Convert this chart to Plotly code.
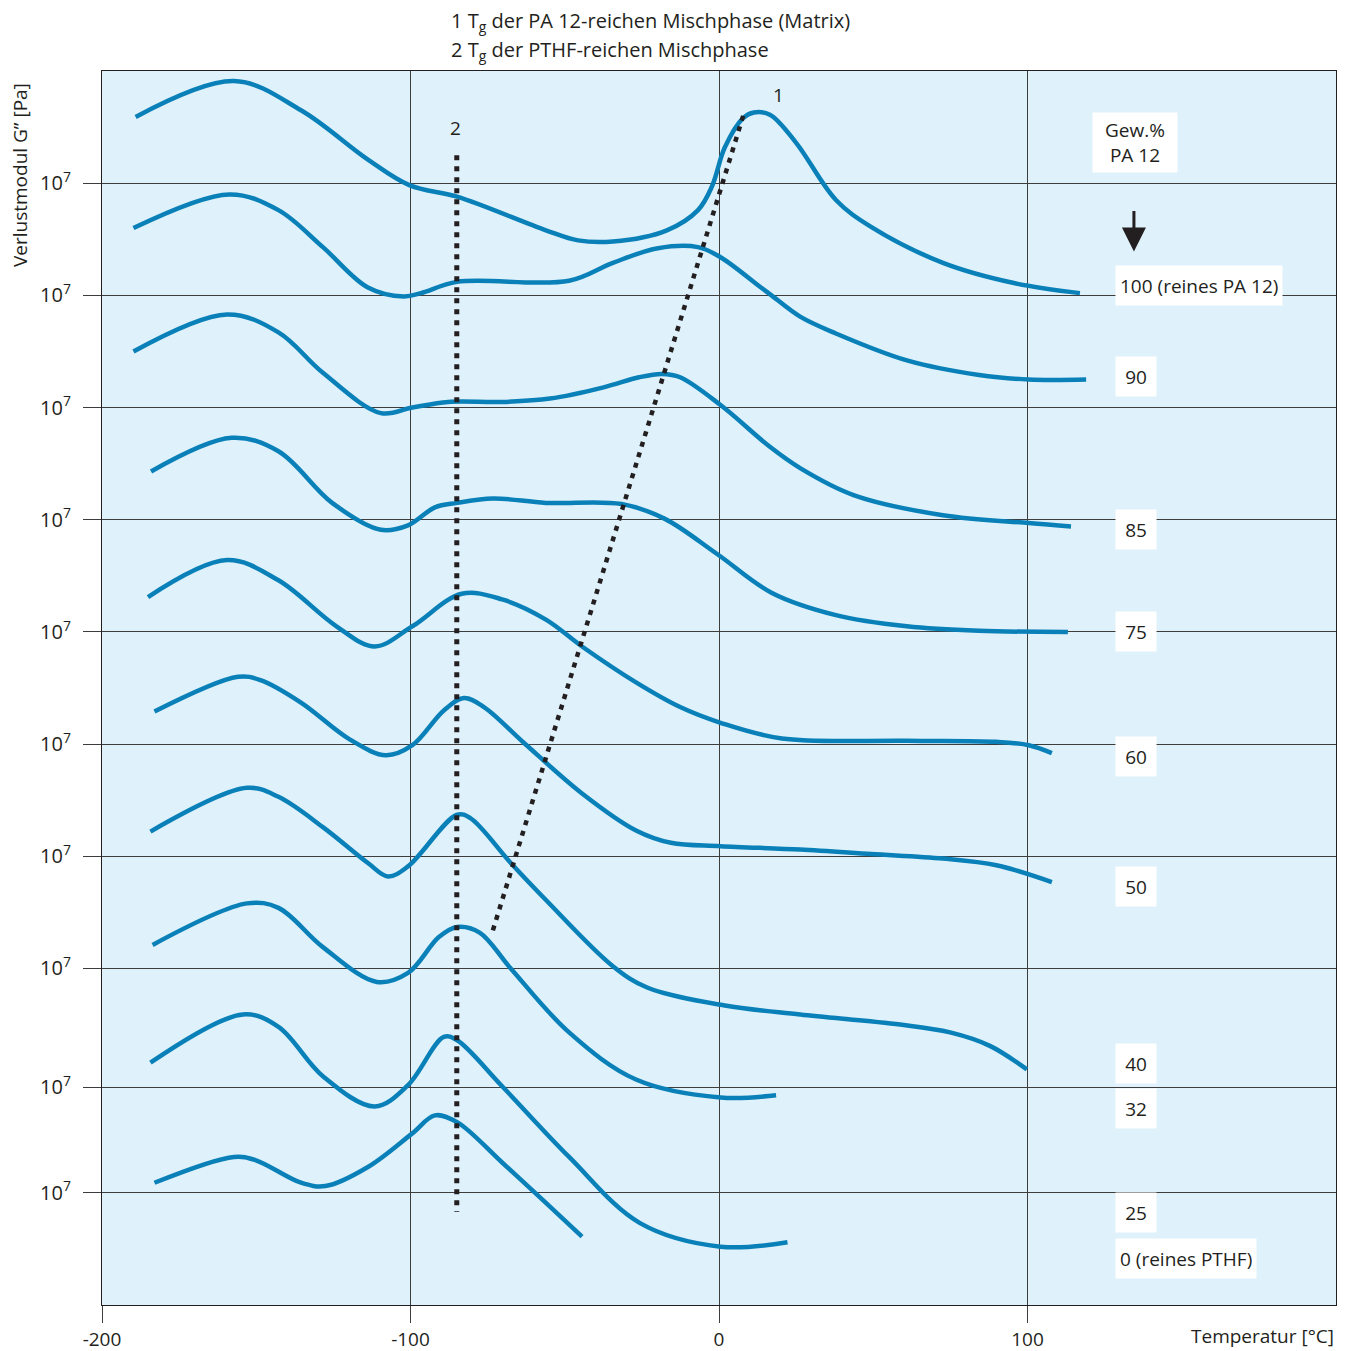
import plotly.graph_objects as go

# ---- data: temperature [°C] and loss modulus (offset display scale, each row labelled 10^7) ----
T_100 = [-189.1, -157.2, -135.5, -113.8, -100.2, -84.9, -56.1, -45.7, -34.4, -16.9, -6.8, -2.3, 1.9, 7.8, 11.3, 16.5, 25.0, 37.9, 49.3, 72.6, 95.6, 117.0]
G_100 = [10.59, 10.91, 10.65, 10.21, 9.98, 9.88, 9.58, 9.49, 9.48, 9.58, 9.76, 9.97, 10.32, 10.58, 10.63, 10.61, 10.36, 9.85, 9.61, 9.29, 9.11, 9.02]

T_90 = [-189.8, -158.7, -142.8, -128.4, -113.8, -102.2, -96.6, -84.9, -48.6, -34.4, -19.8, -6.8, 0.5, 13.6, 17.0, 26.3, 37.9, 60.9, 84.3, 100.4, 119.0]
G_90 = [9.60, 9.90, 9.76, 9.43, 9.07, 8.99, 9.02, 9.12, 9.13, 9.29, 9.42, 9.43, 9.34, 9.07, 9.00, 8.81, 8.66, 8.42, 8.29, 8.25, 8.25]

T_85 = [-189.8, -159.5, -142.8, -128.4, -109.6, -99.4, -87.8, -70.3, -54.8, -37.4, -25.9, -18.5, -12.6, 0.6, 16.5, 26.3, 43.6, 72.6, 100.4, 114.1]
G_85 = [8.50, 8.83, 8.67, 8.31, 7.95, 8.00, 8.05, 8.05, 8.08, 8.18, 8.27, 8.30, 8.27, 8.02, 7.65, 7.46, 7.22, 7.04, 6.97, 6.94]

T_75 = [-184.1, -158.0, -142.8, -125.4, -109.6, -100.8, -92.1, -84.9, -73.3, -56.1, -31.6, -17.7, -0.4, 17.0, 37.9, 60.9, 84.3, 113.1]
G_75 = [7.43, 7.73, 7.61, 7.15, 6.91, 6.95, 7.11, 7.15, 7.19, 7.15, 7.14, 7.01, 6.69, 6.35, 6.15, 6.05, 6.01, 6.00]

T_60 = [-185.1, -159.5, -142.8, -124.0, -111.6, -99.4, -83.4, -70.3, -56.1, -44.4, -26.9, -12.6, 0.5, 20.4, 60.9, 89.8, 100.4, 107.9]
G_60 = [6.31, 6.64, 6.46, 6.05, 5.87, 6.05, 6.34, 6.29, 6.11, 5.87, 5.55, 5.33, 5.19, 5.05, 5.03, 5.02, 4.99, 4.92]

T_50 = [-183.0, -155.9, -148.6, -135.5, -119.6, -108.0, -99.4, -89.2, -82.7, -76.2, -63.2, -44.4, -26.9, -15.6, 0.5, 26.3, 49.4, 72.6, 89.9, 107.9]
G_50 = [5.29, 5.60, 5.57, 5.37, 5.04, 4.90, 4.99, 5.30, 5.41, 5.33, 5.01, 4.56, 4.23, 4.12, 4.09, 4.06, 4.02, 3.98, 3.92, 3.77]

T_40 = [-184.3, -153.0, -142.8, -128.4, -113.8, -107.3, -100.8, -84.9, -80.6, -67.5, -56.1, -34.4, -23.3, 1.9, 26.3, 58.7, 74.9, 87.8, 99.8]
G_40 = [4.22, 4.61, 4.53, 4.26, 3.94, 3.82, 3.91, 4.37, 4.34, 3.94, 3.61, 3.02, 2.83, 2.67, 2.59, 2.50, 2.43, 2.31, 2.10]

T_32 = [-183.6, -153.0, -142.8, -128.4, -110.9, -100.8, -90.8, -84.9, -77.6, -67.5, -48.6, -26.9, 0.5, 18.5]
G_32 = [3.21, 3.58, 3.54, 3.19, 2.88, 2.96, 3.28, 3.37, 3.32, 3.00, 2.43, 2.01, 1.85, 1.87]

T_25 = [-184.3, -154.3, -142.8, -128.4, -111.6, -100.8, -89.2, -84.9, -70.3, -48.6, -25.6, 0.5, 22.2]
G_25 = [2.16, 2.59, 2.48, 2.04, 1.77, 1.96, 2.39, 2.36, 1.95, 1.32, 0.73, 0.52, 0.56]

T_0 = [-183.0, -157.2, -150.1, -135.5, -127.6, -113.8, -99.4, -92.1, -84.9, -70.3, -56.1, -44.4]
G_0 = [1.09, 1.32, 1.29, 1.09, 1.06, 1.23, 1.53, 1.69, 1.63, 1.27, 0.91, 0.61]

SERIES = [("100", T_100, G_100), ("90", T_90, G_90), ("85", T_85, G_85), ("75", T_75, G_75),
          ("60", T_60, G_60), ("50", T_50, G_50), ("40", T_40, G_40), ("32", T_32, G_32),
          ("25", T_25, G_25), ("0", T_0, G_0)]

# Tg guide lines
TG2_T = [-85.0, -85.0]
TG2_G = [10.25, 0.83]
TG1_T = [-73.3, 8.4]
TG1_G = [3.34, 10.65]

# Right-hand labels (Gew.% PA 12)
LABEL_TEXT = ["100 (reines PA 12)", "90", "85", "75", "60", "50", "40", "32", "25", "0 (reines PTHF)"]
LABEL_G = [9.09, 8.28, 6.91, 6.00, 4.885, 3.735, 2.157, 1.756, 0.829, 0.419]

X_TICKS = [-200, -100, 0, 100]
Y_TICKS = [1.0, 1.94, 3.0, 4.0, 5.0, 6.0, 7.0, 8.0, 9.0, 10.0]
Y_TICKTEXT = ["10<sup>7</sup>"] * len(Y_TICKS)

BLUE = "#0A80B8"
INK = "#231F20"
GRID = "#3d3d3d"
FONT = "Open Sans"

fig = go.Figure()

for name, t, g in SERIES:
    fig.add_trace(go.Scatter(x=t, y=g, mode="lines", name=name,
                             line=dict(color=BLUE, width=4.5, shape="spline", smoothing=1.0),
                             hoverinfo="skip", showlegend=False))

fig.add_trace(go.Scatter(x=TG2_T, y=TG2_G, mode="lines", showlegend=False, hoverinfo="skip",
                         line=dict(color=INK, width=5, dash="5px,6px")))
fig.add_trace(go.Scatter(x=TG1_T, y=TG1_G, mode="lines", showlegend=False, hoverinfo="skip",
                         line=dict(color=INK, width=4.5, dash="5px,6px")))

annotations = []
for txt, g in zip(LABEL_TEXT, LABEL_G):
    short = len(txt) <= 3
    annotations.append(dict(x=128.4, y=g, xref="x", yref="y", text=txt, showarrow=False,
                            xanchor="left", yanchor="middle", bgcolor="white",
                            borderpad=4, width=32 if short else None, height=31, align="center",
                            font=dict(family=FONT, size=19, color=INK)))

annotations.append(dict(x=120.9, y=10.36, xref="x", yref="y", text="Gew.%<br>PA 12", showarrow=False,
                        xanchor="left", yanchor="middle", bgcolor="white", borderpad=4, width=76,
                        align="center", font=dict(family=FONT, size=19, color=INK)))
# arrow
annotations.append(dict(x=134.5, y=9.39, xref="x", yref="y", ax=0, ay=-42, text="",
                        showarrow=True, arrowhead=2, arrowsize=1.6, arrowwidth=3, arrowcolor=INK))
# Tg labels
annotations.append(dict(x=19.4, y=10.79, xref="x", yref="y", text="1", showarrow=False,
                        font=dict(family=FONT, size=19, color=INK)))
annotations.append(dict(x=-85.3, y=10.49, xref="x", yref="y", text="2", showarrow=False,
                        font=dict(family=FONT, size=19, color=INK)))
# header legend
annotations.append(dict(x=0.2812, y=1, xref="paper", yref="paper", yshift=50, xanchor="left",
                        yanchor="middle", showarrow=False, align="left",
                        text="1 T<sub>g</sub> der PA 12-reichen Mischphase (Matrix)",
                        font=dict(family=FONT, size=20, color=INK)))
annotations.append(dict(x=0.2812, y=1, xref="paper", yref="paper", yshift=21, xanchor="left",
                        yanchor="middle", showarrow=False, align="left",
                        text="2 T<sub>g</sub> der PTHF-reichen Mischphase",
                        font=dict(family=FONT, size=20, color=INK)))
# axis titles
annotations.append(dict(x=0, y=0.9157, xref="paper", yref="paper", xshift=-82, textangle=-90,
                        xanchor="center", yanchor="middle",
                        showarrow=False, text="Verlustmodul G” [Pa]",
                        font=dict(family=FONT, size=19, color=INK)))
annotations.append(dict(x=1, y=0, xref="paper", yref="paper", yshift=-31, xanchor="right",
                        yanchor="middle", showarrow=False, text="Temperatur [°C]",
                        font=dict(family=FONT, size=19, color=INK)))

# page body has an 8px default margin, so the figure is drawn 8px smaller / shifted
fig.update_layout(
    width=1350, height=1343,
    margin=dict(l=94, r=22, t=63, b=46, autoexpand=False),
    paper_bgcolor="white", plot_bgcolor="#DFF1FB",
    font=dict(family=FONT, size=19, color=INK),
    annotations=annotations, showlegend=False, hovermode=False,
    xaxis=dict(range=[-200, 200], tickvals=X_TICKS, ticktext=[str(v) for v in X_TICKS],
               automargin=False,
               showgrid=True, gridcolor=GRID, gridwidth=1, zeroline=False,
               ticks="outside", ticklen=17, tickcolor=GRID, tickwidth=1,
               showline=True, linecolor=INK, linewidth=1.2, mirror=True,
               tickfont=dict(family=FONT, size=19, color=INK)),
    yaxis=dict(range=[0, 11], tickvals=Y_TICKS, ticktext=Y_TICKTEXT,
               automargin=False,
               showgrid=True, gridcolor=GRID, gridwidth=1, zeroline=False,
               ticks="outside", ticklen=18, tickcolor=GRID, tickwidth=1,
               ticklabelstandoff=8,
               showline=True, linecolor=INK, linewidth=1.2, mirror=True,
               tickfont=dict(family=FONT, size=20, color=INK)),
)

fig.write_html("out.html")
